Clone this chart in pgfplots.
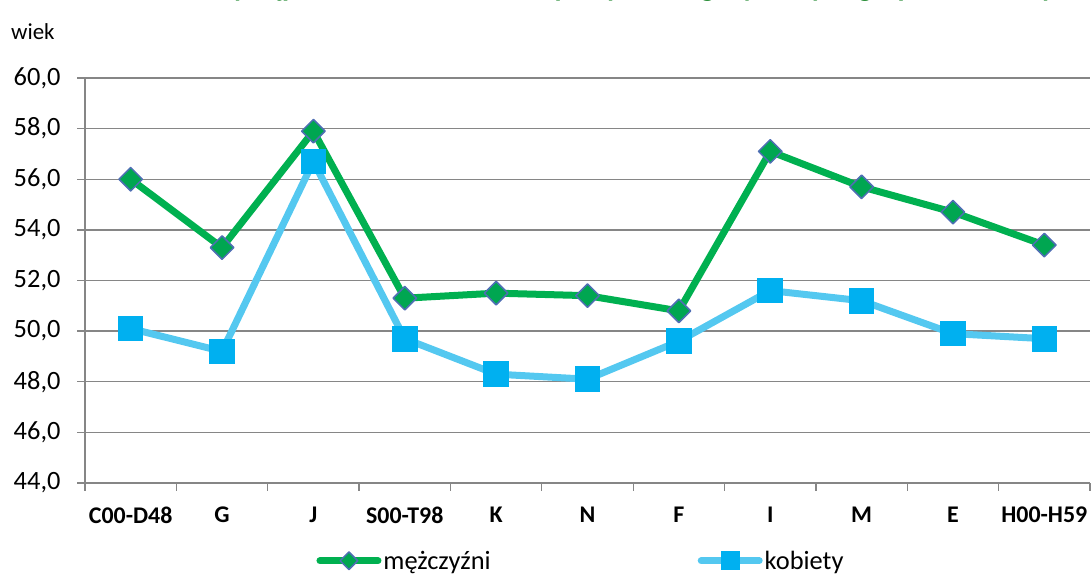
\documentclass[border=0pt]{standalone}
\usepackage{pgfplots}
\pgfplotsset{compat=1.18}
\usepackage{fontspec}
\setmainfont{Carlito}
\definecolor{mgreen}{RGB}{0,176,80}
\definecolor{mfill}{RGB}{0,166,81}
\definecolor{medge}{RGB}{79,110,180}
\definecolor{kline}{RGB}{84,200,240}
\definecolor{kfill}{RGB}{0,176,240}
\definecolor{gridc}{RGB}{134,134,134}
\definecolor{titleg}{RGB}{16,128,32}
\begin{document}
\begin{tikzpicture}[x=1bp,y=1bp]
\useasboundingbox (0,0) rectangle (1092,575);
\node[anchor=base east, font=\fontsize{29}{30}\selectfont\bfseries, text=titleg, inner sep=0] at (1082,578) {Średni wiek wystąpienia niezdolności do pracy według wybranych grup chorobowych};
\node[anchor=west, font=\fontsize{23}{26}\selectfont, inner sep=0] at (11,543) {wiek};
\begin{axis}[
  at={(85bp,92bp)}, anchor=south west,
  scale only axis, width=1005bp, height=405bp,
  xmin=-0.5, xmax=10.5, ymin=44, ymax=60,
  clip=false,
  axis lines*=left,
  axis line style={gridc, line width=1.3bp},
  ymajorgrids,
  major grid style={gridc, line width=1.3bp},
  tick align=outside,
  ytick={44,46,...,60},
  major tick length=8bp,
  minor tick length=8bp,
  ytick style={gridc, line width=1.3bp},
  xtick={0,...,10},
  xticklabels={C00-D48,G,J,S00-T98,K,N,F,I,M,E,H00-H59},
  major x tick style={draw=none},
  minor xtick={-0.5,0.5,...,10.5},
  minor x tick style={gridc, line width=1.3bp},
  xticklabel style={font=\fontsize{24}{26}\selectfont\bfseries, yshift=-12bp},
  yticklabel style={font=\fontsize{26.5}{28}\selectfont, xshift=-13bp},
  /pgf/number format/.cd, fixed, fixed zerofill, precision=1, use comma, assume math mode=true,
  /pgfplots/.cd,
  legend columns=2,
  legend cell align=left,
  legend style={at={(0.4935,-0.192)}, anchor=center, draw=none, fill=none,
    font=\fontsize{26.5}{28}\selectfont,
    /tikz/every even column/.append style={column sep=205bp}},
  legend image code/.code={
    \draw[#1, mark=none, line cap=round] (0bp,0bp) -- (58bp,0bp);
    \draw[#1, only marks, every mark/.append style={scale=0.75}] plot coordinates {(29bp,0bp)};
  },
]
\addplot[mgreen, line width=7bp, line join=round, mark=square*, mark size=8.3bp,
  mark options={rotate=45, fill=mfill, draw=medge, line width=1.5bp}]
  coordinates {(0,56.0) (1,53.3) (2,57.9) (3,51.3) (4,51.5) (5,51.4) (6,50.8) (7,57.1) (8,55.7) (9,54.7) (10,53.4)};
\addlegendentry{mężczyźni}
\addplot[kline, line width=7bp, line join=round, mark=square*, mark size=12.3bp,
  mark options={fill=kfill, draw=kfill, line width=0bp}]
  coordinates {(0,50.1) (1,49.2) (2,56.7) (3,49.7) (4,48.3) (5,48.1) (6,49.6) (7,51.6) (8,51.2) (9,49.9) (10,49.7)};
\addlegendentry{kobiety}
\end{axis}
\end{tikzpicture}
\end{document}
